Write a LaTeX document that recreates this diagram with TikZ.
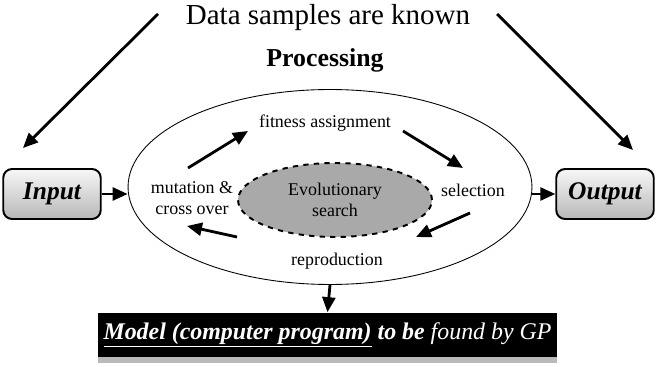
\documentclass[tikz,border=0pt]{standalone}
\usepackage{fontspec}
\setmainfont{Liberation Serif}
\usetikzlibrary{arrows.meta,positioning,shapes.geometric,calc}
\definecolor{EvoGray}{HTML}{A9A9A9}
\definecolor{BoxTop}{HTML}{F7F7F7}
\definecolor{BoxBottom}{HTML}{B8B8B8}
\tikzset{
  iobox/.style={
    rectangle, rounded corners=5pt, draw=black, line width=1.1pt,
    top color=BoxTop, bottom color=BoxBottom,
    minimum width=1.95cm, minimum height=1.0cm,
    font=\fontsize{14.5}{16}\selectfont\bfseries\itshape
  },
  steplabel/.style={font=\fontsize{10.2}{12}\selectfont, align=center},
  bigarrow/.style={-{Triangle[length=0.3cm,width=0.26cm]}, line width=1.6pt},
  cyclearrow/.style={-{Triangle[length=0.3cm,width=0.26cm]}, line width=1.6pt},
}

\begin{document}
\begin{tikzpicture}[x=0.02cm,y=-0.02cm]
    \useasboundingbox (0,0) rectangle (658,367);
    % top texts
    \node[font=\fontsize{16.5}{18}\selectfont] (known) at (328,18) {Data samples are known};
    \node[font=\fontsize{14.7}{16}\selectfont\bfseries] (proc) at (325,60) {Processing};
    % processing ellipse
    \node[ellipse, draw, line width=0.5pt, minimum width=8.08cm, minimum height=3.9cm] (outer) at (330,187) {};
    \node[ellipse, draw, dashed, line width=1.1pt, fill=EvoGray, minimum width=3.88cm, minimum height=1.48cm,
          steplabel] (evo) at (335,200) {Evolutionary\\search};
    \node[steplabel] (fit) at (325,123) {fitness assignment};
    \node[steplabel] (sel) at (473,190) {selection};
    \node[steplabel] (rep) at (337,261) {reproduction};
    \node[steplabel] (mut) at (192,198) {mutation \&\\cross over};
    % input / output
    \node[iobox] (inp) at (52,194) {Input};
    \node[iobox] (outp) at (605,194) {Output};
    % model box
    \fill[gray!55] (98,357) rectangle (557,363);
    \node[rectangle, fill=black, text=white, minimum width=9.18cm, minimum height=0.9cm,
          font=\fontsize{13.6}{15}\selectfont] (model) at (327.5,335)
          {\textbf{\textit{\underline{Model (computer program)} to be}} \textit{found by GP}};
    % cycle arrow ends
    \coordinate (a1) at (188,168);
    \coordinate (b1) at (248,131);
    \coordinate (a2) at (403,131);
    \coordinate (b2) at (463,168);
    \coordinate (a3) at (470,213);
    \coordinate (b3) at (416,237);
    \coordinate (a4) at (237,237);
    \coordinate (b4) at (187,226);
    \coordinate (dl) at (158,14);
    \coordinate (dle) at (23,148);
    \coordinate (dr) at (497,14);
    \coordinate (dre) at (633,150);
    % connectors
    \draw[bigarrow] (dl) -- (dle);
    \draw[bigarrow] (dr) -- (dre);
    \draw[bigarrow] (inp.east) -- (inp.east -| outer.west);
    \draw[bigarrow] (outp.west -| outer.east) -- (outp.west);
    \draw[bigarrow] (outer.south) -- (model.north);
    \draw[cyclearrow] (a1) -- (b1);
    \draw[cyclearrow] (a2) -- (b2);
    \draw[cyclearrow] (a3) -- (b3);
    \draw[cyclearrow] (a4) -- (b4);
\end{tikzpicture}
\end{document}
